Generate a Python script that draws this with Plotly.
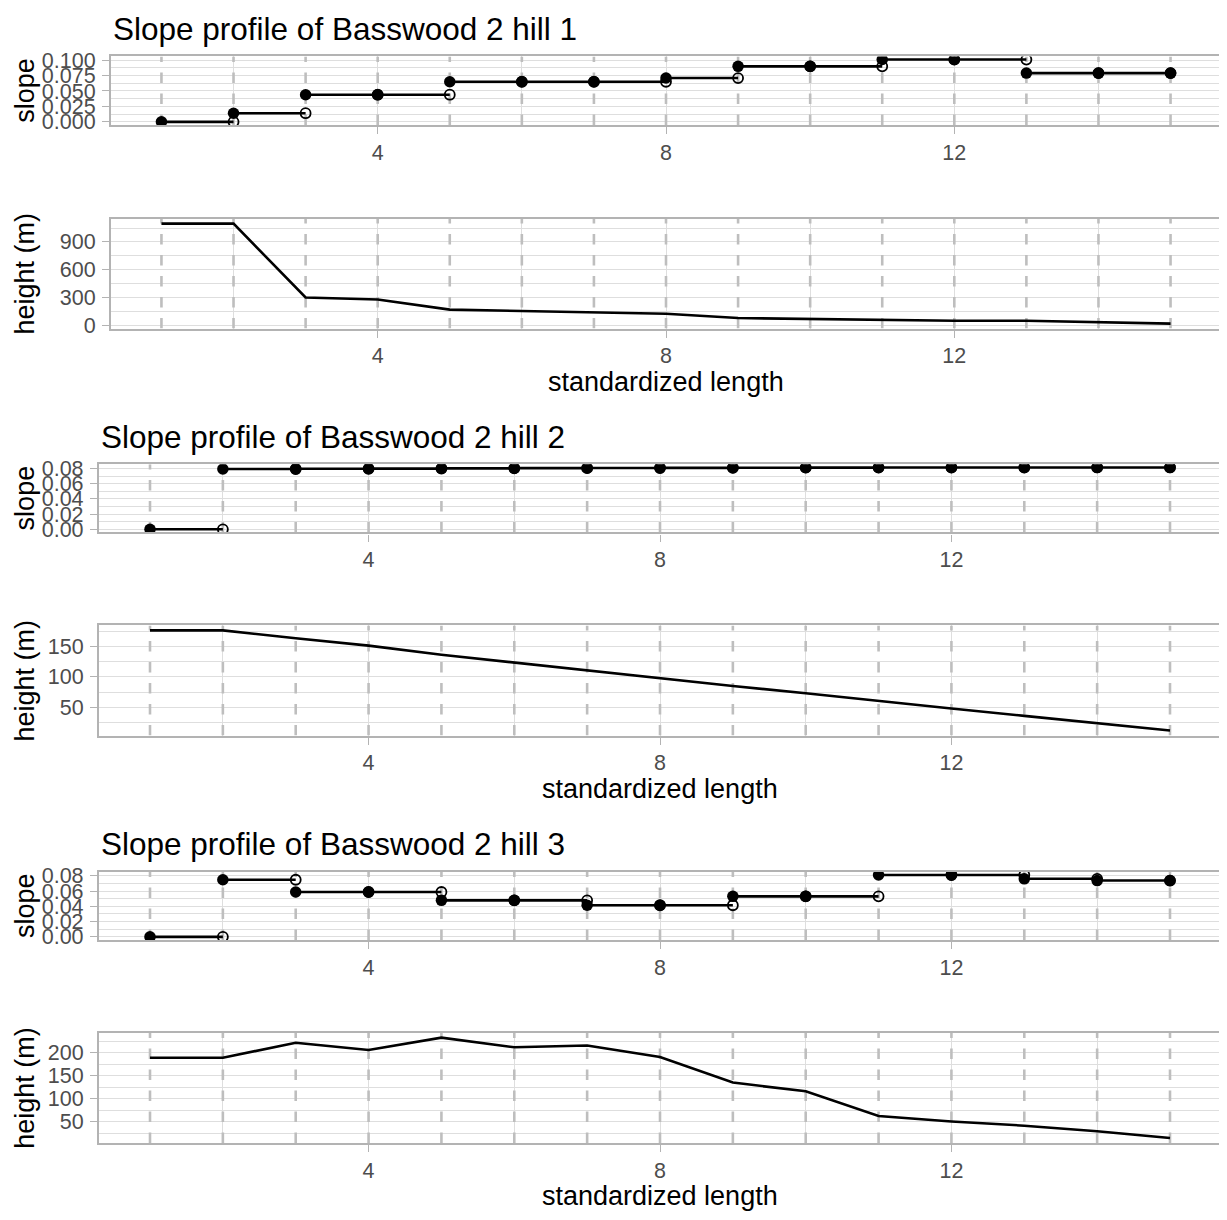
import plotly.graph_objects as go

W, H = 1227, 1220
OFF = 8  # default body margin of the html page

# ---------------- data ----------------
hill_names = ["Slope profile of Basswood 2 hill 1",
              "Slope profile of Basswood 2 hill 2",
              "Slope profile of Basswood 2 hill 3"]

std_length = list(range(1, 16))

slope_h1 = [0.000, 0.014, 0.044, 0.044, 0.065, 0.065, 0.065, 0.071,
            0.090, 0.090, 0.101, 0.101, 0.079, 0.079, 0.079]
height_h1 = [1098, 1098, 300, 279, 169, 152, 138, 124, 78, 67, 56, 49, 49, 35, 18]

slope_h2 = [0.000, 0.0792, 0.0795, 0.0798, 0.0801, 0.0804, 0.0806, 0.0808,
            0.0810, 0.0811, 0.0812, 0.0812, 0.0813, 0.0813, 0.0813]
height_h2 = [176, 176, 163, 151, 136, 123, 111, 97, 85, 73, 60, 48, 36, 24, 12]

slope_h3 = [0.000, 0.0748, 0.0587, 0.0587, 0.0478, 0.0478, 0.0414, 0.0414,
            0.0530, 0.0530, 0.0810, 0.0810, 0.0760, 0.0737, 0.0737]
height_h3 = [189, 189, 222, 206, 233, 212, 216, 191, 135, 116, 62, 50, 41, 29, 14]

x_ticks = [4, 8, 12]
x_minor = [2, 6, 10, 14]
slope_dticks = [0.025, 0.02, 0.02]
slope_formats = [".3f", ".2f", ".2f"]
height_dticks = [300, 50, 50]

slopes = [slope_h1, slope_h2, slope_h3]
heights = [height_h1, height_h2, height_h3]

# ---------------- layout (page pixels) ----------------
panel_left = [111, 99, 99]
panel_right = 1221
slope_rows = [(49, 118.5), (462.7, 531.7), (876, 945)]
height_rows = [(213.5, 325), (626, 737.7), (1039, 1151)]

GRID = "#DEDEDE"
BORDER = "#B3B3B3"
VLINE = "#BEBEBE"
TICKC = "#4D4D4D"
FONT = "Liberation Sans, Arial, Helvetica, sans-serif"
LW = 2.6


def px_x(p):
    return (p - OFF) / W


def px_y(p):
    return 1 - (p - OFF) / H


def expand(vals, frac=0.05):
    lo, hi = min(vals), max(vals)
    pad = (hi - lo) * frac
    return [lo - pad, hi + pad]


fig = go.Figure()
layout = {}
annotations = []

xr = expand(std_length)

for k in range(3):
    s = slopes[k]
    h = heights[k]
    for j, kind in enumerate(["slope", "height"]):
        n = 2 * k + j + 1
        xa = "x" if n == 1 else f"x{n}"
        ya = "y" if n == 1 else f"y{n}"
        rows = slope_rows[k] if kind == "slope" else height_rows[k]
        vals = s if kind == "slope" else h
        yr = expand(vals)

        # dashed vertical reference lines at every standardized length
        vx, vy = [], []
        for xv in std_length:
            vx += [xv, xv, None]
            vy += [yr[0], yr[1], None]
        fig.add_trace(go.Scatter(x=vx, y=vy, mode="lines", xaxis=xa, yaxis=ya,
                                 line=dict(color=VLINE, width=LW, dash="10.5px,10.5px"),
                                 showlegend=False, hoverinfo="skip"))

        if kind == "slope":
            sx, sy = [], []
            for i in range(len(std_length) - 1):
                sx += [std_length[i], std_length[i + 1], None]
                sy += [s[i], s[i], None]
            fig.add_trace(go.Scatter(x=sx, y=sy, mode="lines", xaxis=xa, yaxis=ya,
                                     line=dict(color="black", width=LW),
                                     showlegend=False, hoverinfo="skip"))
            fig.add_trace(go.Scatter(x=std_length[1:], y=s[:-1], mode="markers",
                                     xaxis=xa, yaxis=ya,
                                     marker=dict(symbol="circle-open", size=10, color="black",
                                                 line=dict(width=1.8, color="black")),
                                     showlegend=False))
            fig.add_trace(go.Scatter(x=std_length, y=s, mode="markers",
                                     xaxis=xa, yaxis=ya,
                                     marker=dict(symbol="circle", size=11.5, color="black"),
                                     showlegend=False))
            ydt = slope_dticks[k]
            yfmt = slope_formats[k]
        else:
            fig.add_trace(go.Scatter(x=std_length, y=h, mode="lines", xaxis=xa, yaxis=ya,
                                     line=dict(color="black", width=LW),
                                     showlegend=False))
            ydt = height_dticks[k]
            yfmt = "d"

        axis_common = dict(showline=True, mirror=True, linecolor=BORDER, linewidth=2.4,
                           ticks="outside", ticklen=6.9, tickwidth=1.3, tickcolor=BORDER,
                           tickfont=dict(family=FONT, size=21.5, color=TICKC),
                           showgrid=True, gridcolor=GRID, gridwidth=1.3, zeroline=False)

        layout["xaxis" if n == 1 else f"xaxis{n}"] = dict(
            domain=[px_x(panel_left[k]), px_x(panel_right)],
            range=xr, tickvals=x_ticks, ticktext=[str(t) for t in x_ticks],
            minor=dict(tickvals=x_minor, showgrid=True, gridcolor=GRID, gridwidth=0.7),
            anchor=ya, **axis_common)
        layout["yaxis" if n == 1 else f"yaxis{n}"] = dict(
            domain=[px_y(rows[1]), px_y(rows[0])],
            range=yr, tick0=0, dtick=ydt, tickformat=yfmt,
            minor=dict(tick0=0, dtick=ydt / 2, showgrid=True, gridcolor=GRID, gridwidth=0.7),
            anchor=xa, ticklabelstandoff=2, **axis_common)

        annotations.append(dict(text="slope" if kind == "slope" else "height (m)",
                                x=px_x(25), y=px_y((rows[0] + rows[1]) / 2),
                                xref="paper", yref="paper", textangle=-90,
                                xanchor="center", yanchor="middle", showarrow=False,
                                font=dict(family=FONT, size=27, color="black")))

    annotations.append(dict(text=hill_names[k], x=px_x(panel_left[k]),
                            y=px_y(slope_rows[k][0] - 28),
                            xref="paper", yref="paper", xanchor="left", yanchor="middle",
                            showarrow=False, font=dict(family=FONT, size=31.5, color="black")))
    annotations.append(dict(text="standardized length",
                            x=px_x((panel_left[k] + panel_right) / 2),
                            y=px_y(height_rows[k][1] + 54),
                            xref="paper", yref="paper", xanchor="center", yanchor="middle",
                            showarrow=False, font=dict(family=FONT, size=27, color="black")))

fig.update_layout(width=W, height=H, margin=dict(l=0, r=0, t=0, b=0),
                  paper_bgcolor="white", plot_bgcolor="white",
                  annotations=annotations, showlegend=False,
                  font=dict(family=FONT), **layout)

fig.write_html("out.html")
